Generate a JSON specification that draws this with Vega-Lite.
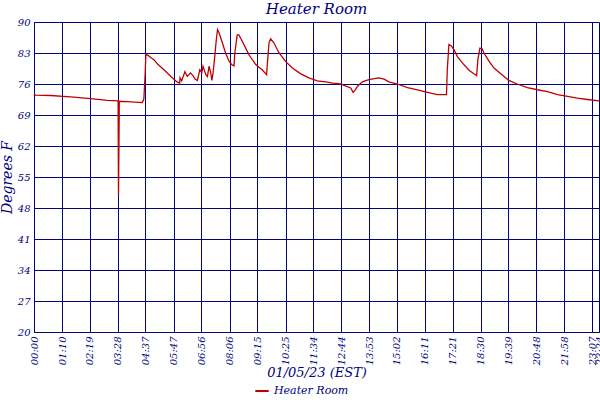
{
  "$schema": "https://vega.github.io/schema/vega-lite/v6.json",
  "description": "Heater Room temperature over one day",
  "width": 565,
  "height": 310,
  "autosize": "none",
  "padding": {"left": 34, "top": 22, "right": 1, "bottom": 68},
  "background": "white",
  "title": {
    "text": "Heater Room",
    "font": "DejaVu Serif",
    "fontStyle": "italic",
    "fontWeight": "normal",
    "fontSize": 15,
    "color": "#000080",
    "offset": 0
  },
  "data": {
    "values": [
      {"minute": 0, "temp": 73.8},
      {"minute": 4, "temp": 73.5},
      {"minute": 41, "temp": 73.4},
      {"minute": 91, "temp": 73.1},
      {"minute": 141, "temp": 72.7},
      {"minute": 182, "temp": 72.3},
      {"minute": 209, "temp": 72.2},
      {"minute": 210, "temp": 51.0},
      {"minute": 212, "temp": 72.1},
      {"minute": 232, "temp": 72.0},
      {"minute": 269, "temp": 71.8},
      {"minute": 273, "temp": 72.6},
      {"minute": 276, "temp": 77.9},
      {"minute": 278, "temp": 82.6},
      {"minute": 283, "temp": 82.5},
      {"minute": 290, "temp": 82.0},
      {"minute": 298, "temp": 81.5},
      {"minute": 307, "temp": 80.5},
      {"minute": 323, "temp": 79.2},
      {"minute": 340, "temp": 77.7},
      {"minute": 356, "temp": 76.4},
      {"minute": 362, "temp": 76.2},
      {"minute": 363, "temp": 77.4},
      {"minute": 367, "temp": 76.7},
      {"minute": 375, "temp": 78.8},
      {"minute": 381, "temp": 77.7},
      {"minute": 389, "temp": 78.5},
      {"minute": 395, "temp": 77.9},
      {"minute": 400, "temp": 77.1},
      {"minute": 406, "temp": 76.8},
      {"minute": 412, "temp": 79.2},
      {"minute": 417, "temp": 78.6},
      {"minute": 420, "temp": 80.0},
      {"minute": 427, "temp": 78.1},
      {"minute": 431, "temp": 77.7},
      {"minute": 435, "temp": 80.0},
      {"minute": 439, "temp": 78.6},
      {"minute": 442, "temp": 76.8},
      {"minute": 445, "temp": 78.5},
      {"minute": 450, "temp": 83.0},
      {"minute": 453, "temp": 86.0},
      {"minute": 456, "temp": 88.3},
      {"minute": 460, "temp": 87.5},
      {"minute": 468, "temp": 85.3},
      {"minute": 476, "temp": 83.0},
      {"minute": 485, "temp": 81.1},
      {"minute": 491, "temp": 80.4},
      {"minute": 497, "temp": 80.1},
      {"minute": 499, "temp": 83.0},
      {"minute": 505, "temp": 87.1},
      {"minute": 509, "temp": 87.1},
      {"minute": 518, "temp": 85.6},
      {"minute": 526, "temp": 84.1},
      {"minute": 534, "temp": 82.6},
      {"minute": 551, "temp": 80.4},
      {"minute": 568, "temp": 79.1},
      {"minute": 578, "temp": 78.1},
      {"minute": 580, "temp": 80.7},
      {"minute": 584, "temp": 85.3},
      {"minute": 588, "temp": 86.2},
      {"minute": 596, "temp": 85.3},
      {"minute": 609, "temp": 83.0},
      {"minute": 625, "temp": 81.1},
      {"minute": 642, "temp": 79.6},
      {"minute": 663, "temp": 78.3},
      {"minute": 683, "temp": 77.4},
      {"minute": 704, "temp": 76.7},
      {"minute": 725, "temp": 76.5},
      {"minute": 742, "temp": 76.2},
      {"minute": 762, "temp": 76.0},
      {"minute": 775, "temp": 75.5},
      {"minute": 787, "temp": 75.1},
      {"minute": 793, "temp": 74.1},
      {"minute": 798, "temp": 74.6},
      {"minute": 804, "temp": 75.5},
      {"minute": 816, "temp": 76.5},
      {"minute": 832, "temp": 77.0},
      {"minute": 857, "temp": 77.4},
      {"minute": 870, "temp": 77.1},
      {"minute": 882, "temp": 76.5},
      {"minute": 903, "temp": 76.0},
      {"minute": 928, "temp": 75.2},
      {"minute": 953, "temp": 74.7},
      {"minute": 978, "temp": 74.1},
      {"minute": 1002, "temp": 73.6},
      {"minute": 1025, "temp": 73.6},
      {"minute": 1027, "temp": 79.2},
      {"minute": 1031, "temp": 84.9},
      {"minute": 1037, "temp": 84.6},
      {"minute": 1044, "temp": 83.7},
      {"minute": 1052, "temp": 82.2},
      {"minute": 1065, "temp": 80.7},
      {"minute": 1081, "temp": 79.1},
      {"minute": 1093, "temp": 78.3},
      {"minute": 1100, "temp": 77.9},
      {"minute": 1103, "temp": 81.5},
      {"minute": 1108, "temp": 84.1},
      {"minute": 1114, "temp": 83.9},
      {"minute": 1118, "temp": 83.0},
      {"minute": 1131, "temp": 81.1},
      {"minute": 1143, "temp": 79.6},
      {"minute": 1160, "temp": 78.3},
      {"minute": 1180, "temp": 76.8},
      {"minute": 1201, "temp": 76.0},
      {"minute": 1226, "temp": 75.2},
      {"minute": 1251, "temp": 74.7},
      {"minute": 1276, "temp": 74.3},
      {"minute": 1301, "temp": 73.6},
      {"minute": 1326, "temp": 73.2},
      {"minute": 1350, "temp": 72.8},
      {"minute": 1375, "temp": 72.5},
      {"minute": 1404, "temp": 72.2}
    ]
  },
  "mark": {"type": "line", "strokeWidth": 1.3},
  "encoding": {
    "x": {
      "field": "minute",
      "type": "quantitative",
      "scale": {"domain": [0, 1404], "nice": false, "zero": false},
      "axis": {
        "values": [0, 70, 139, 208, 277, 347, 416, 486, 555, 625, 694, 764, 833, 902, 971, 1041, 1110, 1179, 1248, 1318, 1387, 1404],
        "labelExpr": "pad(floor(datum.value / 60), 2, '0', 'left') + ':' + pad(datum.value % 60, 2, '0', 'left')",
        "labelAngle": -90,
        "labelAlign": "right",
        "labelBaseline": "middle",
        "labelOverlap": false,
        "labelFlush": false,
        "labelPadding": 4,
        "labelFont": "DejaVu Serif",
        "labelFontStyle": "italic",
        "labelFontSize": 10,
        "labelColor": "#000080",
        "ticks": false,
        "grid": true,
        "gridColor": "#000080",
        "gridOpacity": 1,
        "domainColor": "#000080",
        "title": "01/05/23 (EST)",
        "titleFont": "DejaVu Serif",
        "titleFontStyle": "italic",
        "titleFontWeight": "normal",
        "titleFontSize": 13,
        "titleColor": "#000080",
        "titlePadding": 2
      }
    },
    "y": {
      "field": "temp",
      "type": "quantitative",
      "scale": {"domain": [20, 90], "nice": false, "zero": false},
      "axis": {
        "values": [20, 27, 34, 41, 48, 55, 62, 69, 76, 83, 90],
        "labelPadding": 4,
        "labelFont": "DejaVu Serif",
        "labelFontStyle": "italic",
        "labelFontSize": 10,
        "labelColor": "#000080",
        "ticks": false,
        "grid": true,
        "gridColor": "#000080",
        "gridOpacity": 1,
        "domainColor": "#000080",
        "title": "Degrees F",
        "titleFont": "DejaVu Serif",
        "titleFontStyle": "italic",
        "titleFontWeight": "normal",
        "titleFontSize": 14,
        "titleColor": "#000080",
        "titlePadding": 3
      }
    },
    "color": {
      "datum": "Heater Room",
      "type": "nominal",
      "scale": {"domain": ["Heater Room"], "range": ["#c00000"]},
      "legend": {
        "title": null,
        "orient": "none",
        "legendX": 220,
        "legendY": 361,
        "symbolType": "stroke",
        "symbolSize": 180,
        "symbolStrokeWidth": 2,
        "labelFont": "DejaVu Serif",
        "labelFontStyle": "italic",
        "labelFontSize": 11,
        "labelColor": "#000080"
      }
    }
  },
  "config": {"view": {"stroke": null}}
}
